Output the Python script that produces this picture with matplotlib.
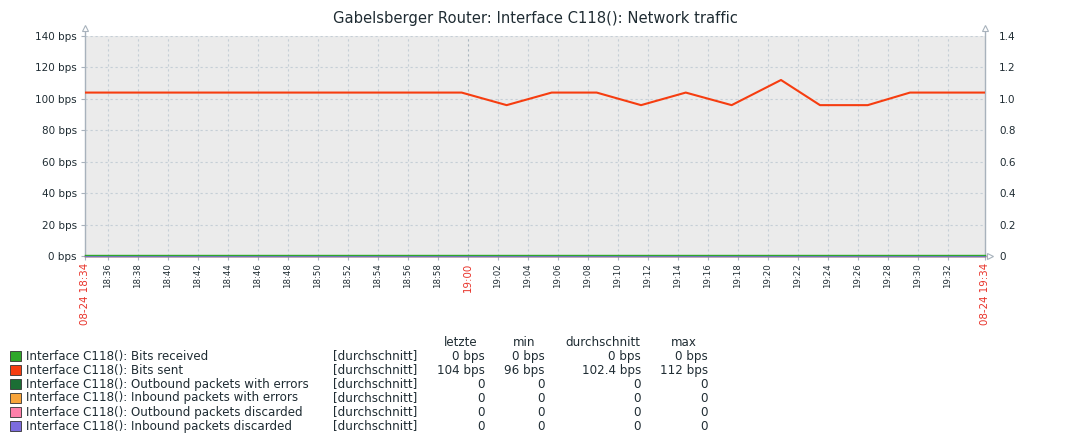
import matplotlib
matplotlib.use("Agg")
import matplotlib.pyplot as plt
from matplotlib.patches import Rectangle
from matplotlib.transforms import offset_copy
from matplotlib.ticker import FixedLocator, FuncFormatter

# ---------------- data ----------------
title = "Gabelsberger Router: Interface C118(): Network traffic"
# minutes after 18:34:00
x_start = 0.47
x_end = 60.47
sent_t = [-1.42, 1.58, 4.58, 7.58, 10.58, 13.58, 16.58, 19.58, 22.58, 25.58,
          28.58, 31.58, 34.58, 37.54, 40.52, 43.58, 46.87, 49.47, 52.65, 55.47,
          58.58, 61.58]
sent_v = [104, 104, 104, 104, 104, 104, 104, 104, 104, 104,
          96, 104, 104, 96, 104, 96, 112, 96, 96, 104,
          104, 104]
zero_t = [x_start, x_end]
zero_v = [0, 0]

tick_pos = [2, 4, 6, 8, 10, 12, 14, 16, 18, 20, 22, 24, 26, 28, 30, 32, 34,
            36, 38, 40, 42, 44, 46, 48, 50, 52, 54, 56, 58]
tick_labels = ["18:36", "18:38", "18:40", "18:42", "18:44", "18:46", "18:48",
               "18:50", "18:52", "18:54", "18:56", "18:58", "19:00", "19:02",
               "19:04", "19:06", "19:08", "19:10", "19:12", "19:14", "19:16",
               "19:18", "19:20", "19:22", "19:24", "19:26", "19:28", "19:30",
               "19:32"]
hour_tick = "19:00"
start_label = "08-24 18:34"
end_label = "08-24 19:34"

y_ticks = [0, 20, 40, 60, 80, 100, 120, 140]
y2_ticks = [0, 0.2, 0.4, 0.6, 0.8, 1.0, 1.2, 1.4]

series_names = ["Interface C118(): Bits received",
                "Interface C118(): Bits sent",
                "Interface C118(): Outbound packets with errors",
                "Interface C118(): Inbound packets with errors",
                "Interface C118(): Outbound packets discarded",
                "Interface C118(): Inbound packets discarded"]
series_colors = ["#2EA82A", "#F63D10", "#1B6E34", "#F8A43A", "#FF80AA", "#7C6CDE"]
func_label = "[durchschnitt]"
col_headers = ["letzte", "min", "durchschnitt", "max"]
col_last = ["0 bps", "104 bps", "0", "0", "0", "0"]
col_min = ["0 bps", "96 bps", "0", "0", "0", "0"]
col_avg = ["0 bps", "102.4 bps", "0", "0", "0", "0"]
col_max = ["0 bps", "112 bps", "0", "0", "0", "0"]

# ---------------- figure ----------------
W, H = 1071, 444
fig = plt.figure(figsize=(W / 100, H / 100), dpi=100)
TXT = "#1f2c33"
AXC = "#a8b2bc"
GRID = "#c5ced6"

def fx(px):
    return px / W

def fy(py):
    return 1 - py / H

L, R, T, B = 85, 985, 36, 256
ax = fig.add_axes([fx(L), fy(B), (R - L) / W, (B - T) / H])
ax.set_facecolor("#EBEBEB")
ax.set_xlim(x_start, x_end)
ax.set_ylim(0, 140)

# grid
for p in tick_pos:
    ax.axvline(p, color="#a9b6c0" if p == 26 else GRID, lw=0.8,
               ls=(0, (2, 2.5)), zorder=1)
for yv in y_ticks[1:]:
    ax.axhline(yv, color=GRID, lw=0.8, ls=(0, (2, 2.5)), zorder=1)

# zero series
order = [2, 3, 4, 5, 0]
for i in order:
    tr = ax.transData
    if i == 0:
        tr = offset_copy(ax.transData, fig=fig, x=0, y=1.2, units="dots")
    elif i == 5:
        tr = offset_copy(ax.transData, fig=fig, x=0, y=-0.4, units="dots")
    ax.plot(zero_t, zero_v, color=series_colors[i], lw=1.0, zorder=3,
            clip_on=False, transform=tr)
# bits sent
ax.plot(sent_t, sent_v, color=series_colors[1], lw=1.5, zorder=4)

# spines
ax.spines["top"].set_visible(False)
for s in ["left", "right", "bottom"]:
    ax.spines[s].set_color(AXC)
    ax.spines[s].set_linewidth(1.0)
ax.spines["left"].set_bounds(0, 145)
ax.spines["right"].set_bounds(0, 145)

# y ticks
ax.yaxis.set_major_locator(FixedLocator(y_ticks))
ax.set_yticklabels([f"{v} bps" for v in y_ticks])
ax.tick_params(axis="y", length=3, color=AXC, labelsize=7.5, labelcolor=TXT, pad=3)

# x ticks
all_pos = [x_start] + tick_pos + [x_end]
all_lab = [start_label] + tick_labels + [end_label]
ax.xaxis.set_major_locator(FixedLocator(all_pos))
ax.set_xticklabels(all_lab, rotation=90)
ax.tick_params(axis="x", length=3, color=AXC, pad=2)
for lab in ax.get_xticklabels():
    t = lab.get_text()
    if t in (start_label, end_label, hour_tick):
        lab.set_color("#e8332a")
        lab.set_fontsize(7.4)
    else:
        lab.set_color(TXT)
        lab.set_fontsize(6.2)

# right axis
ax2 = ax.twinx()
ax2.set_ylim(0, 1.4)
ax2.yaxis.set_major_locator(FixedLocator(y2_ticks))
ax2.yaxis.set_major_formatter(FuncFormatter(lambda v, p: "0" if v == 0 else f"{v:.1f}"))
ax2.tick_params(axis="y", length=0, labelsize=7.5, labelcolor=TXT, pad=10)
for s in ax2.spines.values():
    s.set_visible(False)

# arrows
ax.plot([0, 1], [1.035, 1.035], transform=ax.transAxes, ls="none", marker="^",
        ms=5, mfc="white", mec=AXC, mew=0.8, clip_on=False, zorder=6)
ax.plot([1.0055], [0], transform=ax.transAxes, ls="none", marker=">",
        ms=5, mfc="white", mec=AXC, mew=0.8, clip_on=False, zorder=6)

# title
fig.text(fx(535), fy(19), title, ha="center", va="center", fontsize=10.6, color=TXT)

# legend
LF = 8.6
fig.text(fx(444), fy(342), col_headers[0], ha="left", va="center", fontsize=LF, color=TXT)
fig.text(fx(513), fy(342), col_headers[1], ha="left", va="center", fontsize=LF, color=TXT)
fig.text(fx(565), fy(342), col_headers[2], ha="left", va="center", fontsize=LF, color=TXT)
fig.text(fx(671), fy(342), col_headers[3], ha="left", va="center", fontsize=LF, color=TXT)
for i, name in enumerate(series_names):
    yc = 356 + 14 * i
    fig.add_artist(Rectangle((fx(10), fy(yc + 5)), 11 / W, 10 / H,
                             transform=fig.transFigure, facecolor=series_colors[i],
                             edgecolor="#333333", lw=0.6))
    fig.text(fx(26), fy(yc), name, ha="left", va="center", fontsize=LF, color=TXT)
    fig.text(fx(333), fy(yc), func_label, ha="left", va="center", fontsize=LF, color=TXT)
    fig.text(fx(485), fy(yc), col_last[i], ha="right", va="center", fontsize=LF, color=TXT)
    fig.text(fx(545), fy(yc), col_min[i], ha="right", va="center", fontsize=LF, color=TXT)
    fig.text(fx(641), fy(yc), col_avg[i], ha="right", va="center", fontsize=LF, color=TXT)
    fig.text(fx(708), fy(yc), col_max[i], ha="right", va="center", fontsize=LF, color=TXT)

fig.savefig("out.png", dpi=100, facecolor="white")
